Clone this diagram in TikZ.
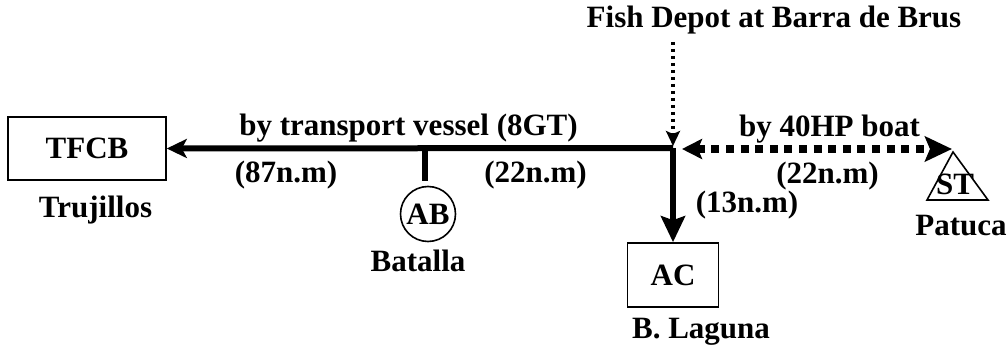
\documentclass[tikz,border=0pt]{standalone}
\usepackage{fontspec}
\setmainfont{Liberation Serif}
\usetikzlibrary{arrows.meta}
\begin{document}
\begin{tikzpicture}[x=1pt,y=-1pt,
  every node/.style={font=\fontsize{31}{34}\selectfont\bfseries, inner sep=0pt},
  txt/.style={anchor=base},
  boxnode/.style={draw, line width=1.6pt, inner sep=0pt},
  thickline/.style={line width=6pt},
  dotvert/.style={line width=3.5pt, dash pattern=on 3.5pt off 3.5pt},
  dothoriz/.style={line width=8pt, dash pattern=on 8pt off 6.6pt},
  headA/.style={-{Stealth[length=20pt,width=19pt,inset=5pt]}},
  headB/.style={-{Stealth[length=26pt,width=24pt,inset=4pt]}},
  headC/.style={-{Stealth[length=15pt,width=14pt,inset=3pt]}},
  headD/.style={{Stealth[length=20pt,width=20pt,inset=4pt]}-{Stealth[length=27pt,width=25pt,inset=5pt]}}
]
\useasboundingbox (0,0) rectangle (1007,347);

% nodes
\node[boxnode, minimum width=158pt, minimum height=63pt] (tfcb) at (87,148.5) {TFCB};
\node[txt] (trujillos) at (95.5,217.5) {Trujillos};
\node[boxnode, circle, minimum size=55pt] (ab) at (428,214) {AB};
\node[txt] (batalla) at (418,272) {Batalla};
\node[boxnode, minimum width=91pt, minimum height=64pt] (ac) at (673,275) {AC};
\node[txt] (laguna) at (701,339) {B. Laguna};
\node[txt] (depot) at (774,28) {Fish Depot at Barra de Brus};
\node[txt] (patuca) at (961,236) {Patuca};

% coordinates
\coordinate (j) at (673,148);
\coordinate (dtop) at (673,42);
\coordinate (stubtop) at (425,148);
\coordinate (stubend) at (425,181);
\coordinate (jr) at (682,149);
\coordinate (stapex) at (952,149);

% connectors
\draw[thickline, headA] (j) -- (tfcb.east);
\draw[thickline] (stubtop) -- (stubend);
\draw[thickline, headB] (j) -- (ac.north);
\draw[dotvert, headC, shorten >=2pt] (dtop) -- (j);
\draw[dothoriz, headD] (jr) -- (stapex);

% triangle ST
\draw[line width=1.6pt] (953,152) -- (988,200) -- (927,200) -- cycle;
\node[txt] (st) at (955,195) {ST};

% labels
\node[txt] (lblvessel) at (408.5,136) {by transport vessel (8GT)};
\node[txt] (lbl87) at (286,183) {(87n.m)};
\node[txt] (lbl22a) at (535.5,183) {(22n.m)};
\node[txt] (lblboat) at (829.5,137) {by 40HP boat};
\node[txt] (lbl22b) at (827.5,184) {(22n.m)};
\node[txt] (lbl13) at (747,213) {(13n.m)};
\end{tikzpicture}
\end{document}
